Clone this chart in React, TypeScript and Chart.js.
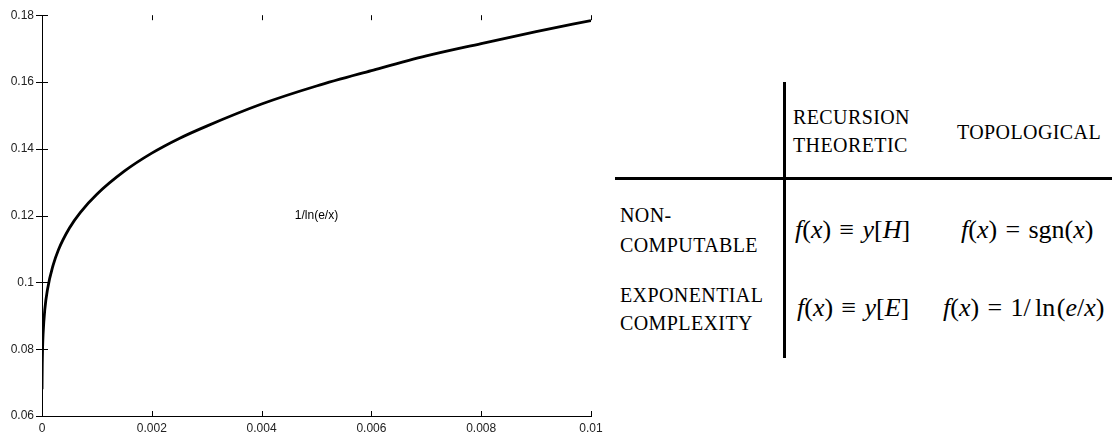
import React, { useEffect, useRef } from "react";
import { Chart, registerables } from "chart.js";
Chart.register(...registerables);

// Curve values
const xValues = [0.000001, 0.000002, 0.000005, 0.00001, 0.00002, 0.00005, 0.0001, 0.0002, 0.0003, 0.0005, 0.0007, 0.001, 0.0015, 0.002, 0.0025, 0.003, 0.004, 0.005, 0.006, 0.007, 0.008, 0.009, 0.01];
const yValues = [0.068, 0.0708, 0.0757, 0.0799, 0.0846, 0.0917, 0.0979, 0.105, 0.1098, 0.1163, 0.121, 0.1264, 0.1333, 0.1387, 0.1431, 0.1468, 0.1534, 0.1588, 0.1634, 0.1678, 0.1715, 0.1751, 0.1784];
const xTicks = [0, 0.002, 0.004, 0.006, 0.008, 0.01];
const yTicks = [0.06, 0.08, 0.1, 0.12, 0.14, 0.16, 0.18];
const curveLabel = "1/ln(e/x)";
const curveLabelAt = [0.005, 0.12];

const colHeaders = [["RECURSION", "THEORETIC"], ["TOPOLOGICAL"]];
const rowHeaders = [["NON-", "COMPUTABLE"], ["EXPONENTIAL", "COMPLEXITY"]];

const fmt = (v: number) => String(parseFloat(v.toFixed(4)));

const axisPlugin = {
  id: "axisTicks",
  afterDraw(chart: any) {
    const { ctx, chartArea, scales } = chart;
    const { left, top, bottom } = chartArea;
    const x = scales.x;
    const y = scales.y;
    ctx.save();
    ctx.strokeStyle = "#000";
    ctx.lineWidth = 1;
    ctx.beginPath();
    xTicks.forEach((v) => {
      const px = Math.round(x.getPixelForValue(v)) + 0.5;
      ctx.moveTo(px, bottom);
      ctx.lineTo(px, bottom - 5);
      if (v !== 0) {
        ctx.moveTo(px, top);
        ctx.lineTo(px, top + 5);
      }
    });
    yTicks.forEach((v) => {
      const py = Math.round(y.getPixelForValue(v)) + 0.5;
      ctx.moveTo(left - 6, py);
      ctx.lineTo(left + 6, py);
    });
    ctx.stroke();
    ctx.fillStyle = "#000";
    ctx.font = '12px "Liberation Sans", Arial, sans-serif';
    ctx.textAlign = "center";
    ctx.textBaseline = "middle";
    ctx.fillText(curveLabel, x.getPixelForValue(curveLabelAt[0]), y.getPixelForValue(curveLabelAt[1]));
    ctx.restore();
  },
};

const serifFamily = '"Liberation Serif", "Times New Roman", Times, serif';

const capStyle = (left: number, center: number): React.CSSProperties => ({
  position: "absolute",
  left,
  top: center - 10,
  fontFamily: serifFamily,
  fontSize: 20,
  lineHeight: "20px",
  letterSpacing: "0.4px",
  color: "#000",
  whiteSpace: "nowrap",
});

const mathStyle = (left: number, center: number): React.CSSProperties => ({
  position: "absolute",
  left,
  top: center - 16,
  fontFamily: serifFamily,
  fontSize: 26,
  lineHeight: "26px",
  color: "#000",
  whiteSpace: "nowrap",
});

const rel: React.CSSProperties = { margin: "0 0.32em" };

export default function App() {
  const ref = useRef<HTMLCanvasElement>(null);
  useEffect(() => {
    if (!ref.current) return;
    Chart.defaults.font.family = '"Liberation Sans", Arial, sans-serif';
    const chart = new Chart(ref.current, {
      type: "line",
      data: {
        datasets: [
          {
            data: xValues.map((v, i) => ({ x: v, y: yValues[i] })),
            borderColor: "#000",
            borderWidth: 2.8,
            pointRadius: 0,
            cubicInterpolationMode: "monotone",
            fill: false,
          },
        ],
      },
      options: {
        responsive: false,
        animation: false,
        layout: { padding: { top: 14, right: 21, left: 0, bottom: 0 } },
        plugins: { legend: { display: false }, tooltip: { enabled: false } },
        scales: {
          x: {
            type: "linear",
            min: 0,
            max: 0.01,
            afterBuildTicks: (s: any) => {
              s.ticks = xTicks.map((v) => ({ value: v }));
            },
            afterFit: (s: any) => {
              s.height = 21;
            },
            grid: { display: true, drawOnChartArea: false, drawTicks: false },
            border: { display: true, color: "#000", width: 1 },
            ticks: { color: "#222", font: { size: 12 }, padding: 5, maxRotation: 0, callback: (v: any) => fmt(Number(v)) },
          },
          y: {
            type: "linear",
            min: 0.06,
            max: 0.18,
            afterBuildTicks: (s: any) => {
              s.ticks = yTicks.map((v) => ({ value: v }));
            },
            afterFit: (s: any) => {
              s.width = 42;
            },
            grid: { display: true, drawOnChartArea: false, drawTicks: false },
            border: { display: true, color: "#000", width: 1 },
            ticks: { color: "#222", font: { size: 12 }, padding: 8, callback: (v: any) => fmt(Number(v)) },
          },
        },
      },
      plugins: [axisPlugin],
    } as any);
    return () => chart.destroy();
  }, []);

  return (
    <div style={{ position: "absolute", left: 0, top: 0, width: 1112, height: 437, background: "#fff", overflow: "hidden" }}>
      <canvas ref={ref} width={612} height={437} style={{ position: "absolute", left: 0, top: 0 }} />
      <div style={{ position: "absolute", left: 783, top: 82, width: 3, height: 276, background: "#000" }} />
      <div style={{ position: "absolute", left: 615, top: 177, width: 497, height: 3, background: "#000" }} />
      <div style={capStyle(793, 117)}>{colHeaders[0][0]}</div>
      <div style={capStyle(793, 145)}>{colHeaders[0][1]}</div>
      <div style={capStyle(957, 131.5)}>{colHeaders[1][0]}</div>
      <div style={capStyle(620, 215)}>{rowHeaders[0][0]}</div>
      <div style={capStyle(620, 245)}>{rowHeaders[0][1]}</div>
      <div style={capStyle(620, 295)}>{rowHeaders[1][0]}</div>
      <div style={capStyle(620, 323)}>{rowHeaders[1][1]}</div>
      <div style={mathStyle(795, 232.5)}>
        <i>f</i>(<i>x</i>)<span style={rel}>≡</span><i>y</i>[<i>H</i>]
      </div>
      <div style={mathStyle(961, 232.5)}>
        <i>f</i>(<i>x</i>)<span style={rel}>=</span>sgn(<i>x</i>)
      </div>
      <div style={mathStyle(797, 311)}>
        <i>f</i>(<i>x</i>)<span style={rel}>≡</span><i>y</i>[<i>E</i>]
      </div>
      <div style={mathStyle(943, 311)}>
        <i>f</i>(<i>x</i>)<span style={rel}>=</span>1/<span style={{ marginLeft: "0.17em", marginRight: "0.06em" }}>ln</span>(<i>e</i>/<i>x</i>)
      </div>
    </div>
  );
}
